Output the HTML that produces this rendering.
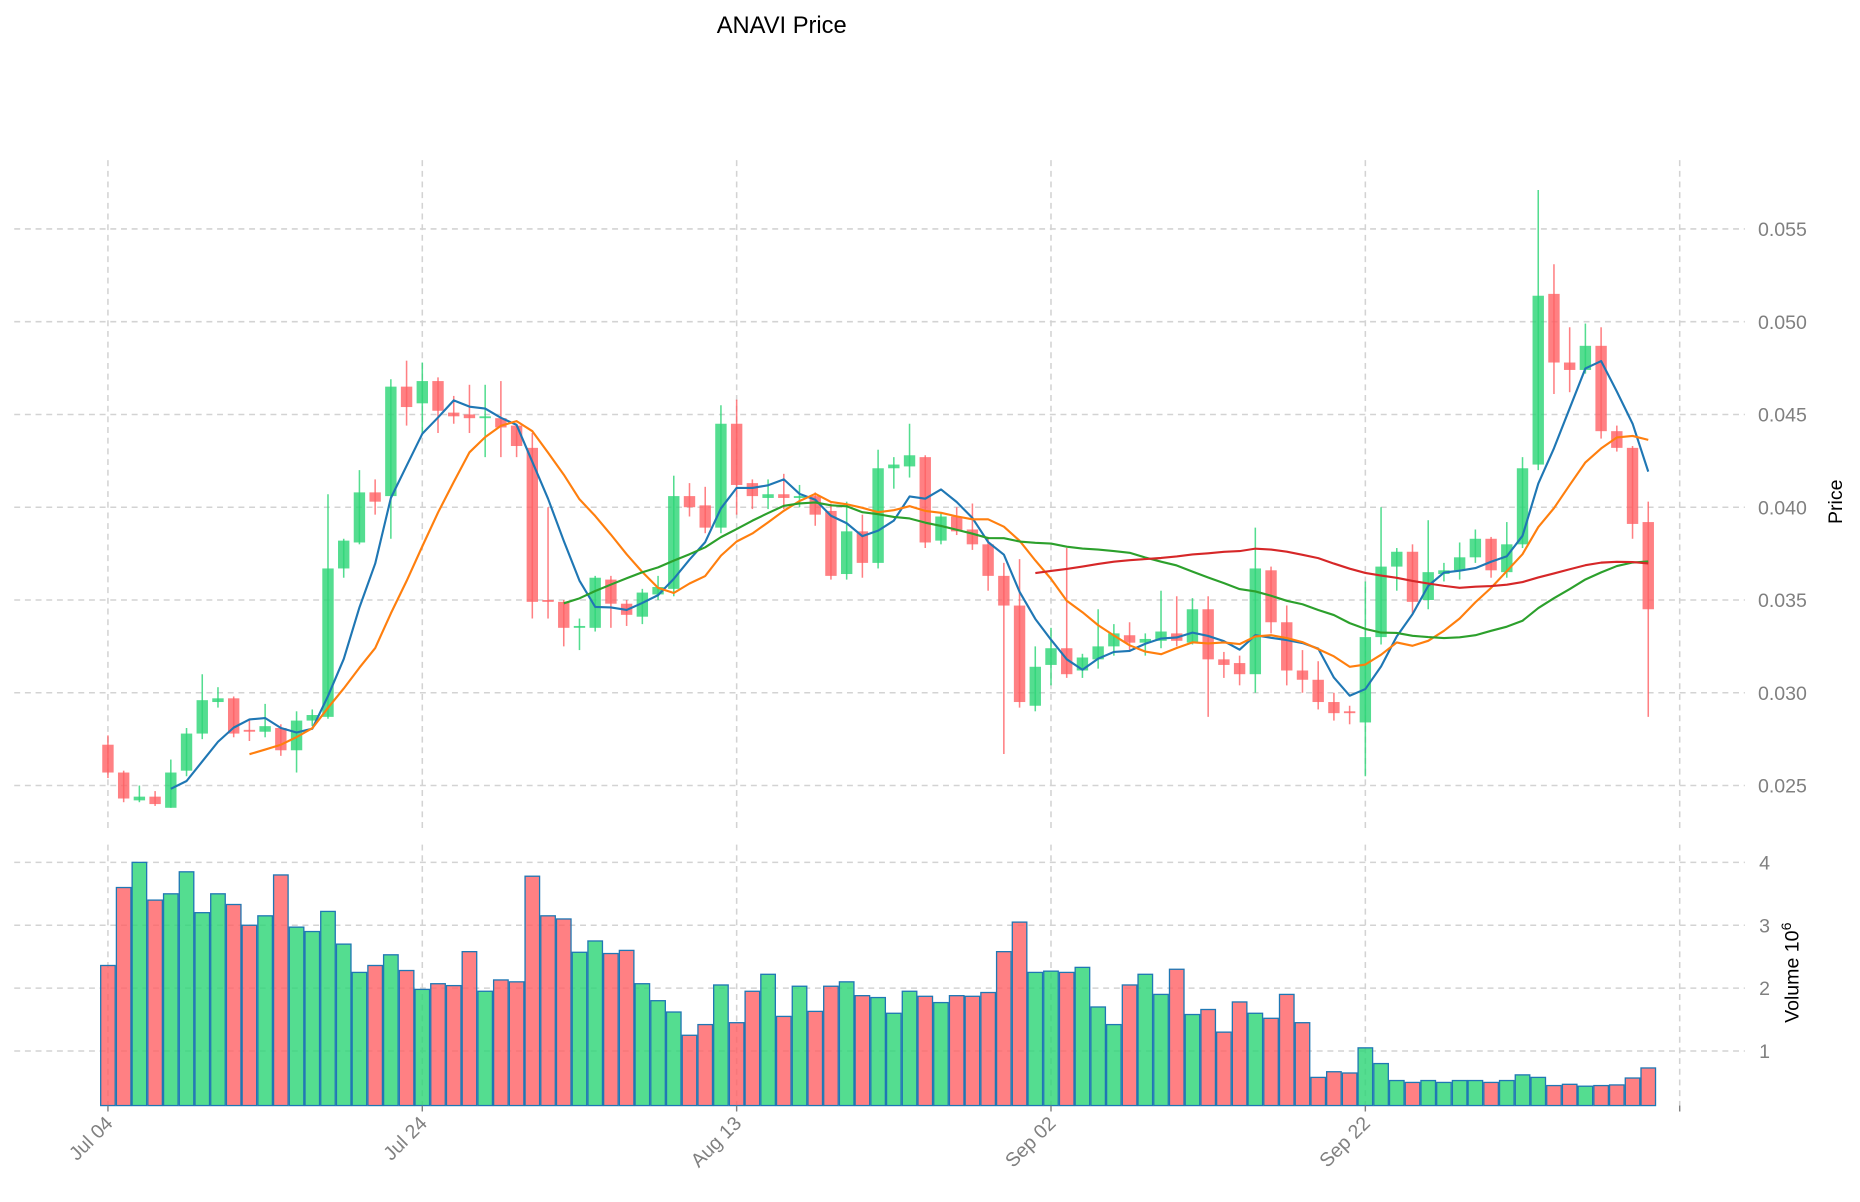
<!DOCTYPE html>
<html><head><meta charset="utf-8"><style>
html,body{margin:0;padding:0;background:#fff}
svg{display:block;font-family:"Liberation Sans","DejaVu Sans",sans-serif}
</style></head><body>
<svg id="chart" width="1860" height="1202" viewBox="0 0 1568 1013.3" xmlns="http://www.w3.org/2000/svg">
<text x="659" y="28" font-size="20" text-anchor="middle" fill="#000">ANAVI Price</text>
<g id="grid"></g><g id="vol"></g><g id="candles"></g><g id="mas"></g><g id="axes"></g>
<text transform="translate(1553,423) rotate(-90)" font-size="16.5" text-anchor="middle" fill="#000">Price</text>
<text transform="translate(1516,820) rotate(-90)" font-size="16.5" text-anchor="middle" fill="#000">Volume  10<tspan dy="-6" font-size="12">6</tspan></text>
</svg>
<script>
const opens=[.0272,.0257,.0242,.0244,.0238,.0258,.0278,.0295,.0297,.0280,.0279,.0281,.0269,.0285,.0287,.0367,.0381,.0408,.0406,.0465,.0456,.0468,.0451,.0450,.0448,.0448,.0444,.0432,.0350,.0349,.0335,.0335,.0361,.0348,.0341,.0353,.0356,.0406,.0401,.0389,.0445,.0413,.0405,.0407,.0405,.0406,.0398,.0364,.0387,.0370,.0421,.0422,.0427,.0382,.0395,.0388,.0380,.0363,.0347,.0293,.0315,.0324,.0312,.0318,.0325,.0331,.0327,.0328,.0332,.0327,.0345,.0318,.0316,.0310,.0366,.0338,.0312,.0307,.0295,.0290,.0284,.0330,.0368,.0376,.0350,.0364,.0366,.0373,.0383,.0365,.0380,.0423,.0515,.0478,.0474,.0487,.0441,.0432,.0392];
const closes=[.0257,.0243,.0244,.0240,.0257,.0278,.0296,.0297,.0278,.0279,.0282,.0269,.0285,.0288,.0367,.0382,.0408,.0403,.0465,.0454,.0468,.0452,.0449,.0448,.0449,.0443,.0433,.0349,.0349,.0335,.0336,.0362,.0348,.0342,.0354,.0357,.0406,.0400,.0389,.0445,.0412,.0406,.0407,.0405,.0406,.0396,.0363,.0387,.0370,.0421,.0423,.0428,.0381,.0395,.0387,.0380,.0363,.0347,.0295,.0314,.0324,.0310,.0319,.0325,.0332,.0327,.0329,.0333,.0328,.0345,.0318,.0315,.0310,.0367,.0338,.0312,.0307,.0295,.0289,.0289,.0330,.0368,.0376,.0349,.0365,.0366,.0373,.0383,.0366,.0380,.0421,.0514,.0478,.0474,.0487,.0441,.0432,.0391,.0345];
const highs=[.0277,.0258,.0250,.0247,.0264,.0281,.0310,.0303,.0298,.0286,.0294,.0283,.0290,.0291,.0407,.0383,.0420,.0415,.0469,.0479,.0478,.0470,.0460,.0466,.0466,.0468,.0445,.0440,.0400,.0350,.0340,.0363,.0363,.0350,.0356,.0363,.0417,.0413,.0411,.0455,.0458,.0415,.0415,.0418,.0412,.0408,.0402,.0403,.0396,.0431,.0427,.0445,.0428,.0397,.0400,.0402,.0384,.0370,.0372,.0325,.0335,.0378,.0321,.0345,.0337,.0338,.0332,.0355,.0352,.0351,.0352,.0322,.0320,.0389,.0368,.0347,.0323,.0317,.0300,.0293,.0360,.0400,.0378,.0380,.0393,.0370,.0381,.0388,.0384,.0392,.0427,.0571,.0531,.0497,.0499,.0497,.0444,.0433,.0403];
const lows=[.0254,.0241,.0241,.0239,.0238,.0255,.0275,.0292,.0276,.0274,.0276,.0266,.0257,.0282,.0286,.0362,.0380,.0396,.0383,.0444,.0440,.0440,.0445,.0440,.0427,.0427,.0427,.0340,.0340,.0325,.0323,.0333,.0335,.0336,.0337,.0350,.0352,.0395,.0386,.0386,.0396,.0399,.0399,.0399,.0400,.0390,.0361,.0361,.0362,.0367,.0410,.0416,.0378,.0380,.0385,.0377,.0355,.0267,.0292,.0290,.0304,.0308,.0308,.0313,.0320,.0322,.0320,.0324,.0325,.0326,.0287,.0308,.0304,.0300,.0332,.0304,.0300,.0291,.0285,.0283,.0255,.0326,.0355,.0343,.0345,.0360,.0361,.0370,.0362,.0362,.0378,.0420,.0461,.0462,.0472,.0437,.0430,.0383,.0287];
const volumes=[2.36,3.6,4.0,3.4,3.5,3.85,3.2,3.5,3.33,3.0,3.15,3.8,2.97,2.9,3.22,2.7,2.25,2.36,2.53,2.28,1.98,2.07,2.04,2.58,1.95,2.13,2.1,3.78,3.15,3.1,2.57,2.75,2.55,2.6,2.07,1.8,1.62,1.25,1.42,2.05,1.45,1.95,2.22,1.55,2.03,1.63,2.03,2.1,1.88,1.85,1.6,1.95,1.87,1.77,1.88,1.87,1.93,2.58,3.05,2.25,2.27,2.25,2.33,1.7,1.42,2.05,2.22,1.9,2.3,1.58,1.66,1.3,1.78,1.6,1.52,1.9,1.45,0.58,0.67,0.65,1.05,0.8,0.53,0.5,0.53,0.5,0.53,0.53,0.5,0.53,0.62,0.58,0.45,0.47,0.44,0.45,0.46,0.57,0.73];
const priceTicks=[0.025,0.030,0.035,0.040,0.045,0.050,0.055];
const volTicks=[1,2,3,4];
const dateLabels=["Jul 04","Jul 24","Aug 13","Sep 02","Sep 22"];
const dateIdx=[0,20,40,60,80,100];
const maPeriods=[5,10,30,60];
const maColors=["#1f77b4","#ff7f0e","#2ca02c","#d62728"];

const NS="http://www.w3.org/2000/svg";
const X0=91,DX=13.25;
const xs=i=>X0+DX*i;
const py=v=>193+(0.055-v)*15640;
const vy=v=>939-v*53;
const PL=12,PR=1416,PT=135,PB=700,VT=712,VB=932;
function mk(tag,attrs,parent){const e=document.createElementNS(NS,tag);for(const k in attrs)e.setAttribute(k,attrs[k]);parent.appendChild(e);return e;}
const G=document.getElementById('grid'),V=document.getElementById('vol'),C=document.getElementById('candles'),M=document.getElementById('mas'),A=document.getElementById('axes');
const gs={stroke:"#d3d3d3","stroke-width":1.3,"stroke-dasharray":"5,4",fill:"none"};
priceTicks.forEach(t=>{
  const y=py(t);
  const l=mk('line',Object.assign({x1:PL,x2:PR+55,y1:y,y2:y},gs),G);
  
  
  const tx=mk('text',{x:1482,y:y+6,"font-size":16.5,fill:"#808080"},A);
  tx.textContent=t.toFixed(3);
  
  
});
volTicks.forEach(t=>{
  const y=vy(t);
  const l=mk('line',Object.assign({x1:PL,x2:PR+55,y1:y,y2:y},gs),G);
  
  
  const tx=mk('text',{x:1483,y:y+6,"font-size":16.5,fill:"#808080"},A);
  tx.textContent=t;
  
  
});
dateIdx.forEach((d,k)=>{
  const x=xs(d);
  const l1=mk('line',Object.assign({x1:x,x2:x,y1:PT,y2:PB},gs),G);
  
  
  const l2=mk('line',Object.assign({x1:x,x2:x,y1:VT,y2:VB},gs),G);
  
  
  const tk=mk('line',{x1:x,x2:x,y1:VB,y2:VB+5,stroke:"#808080","stroke-width":1.2},A);
  
  
  if(k<dateLabels.length){
    const tx=mk('text',{transform:`translate(${x+5},${VB+16}) rotate(-45)`,"font-size":16.5,fill:"#808080","text-anchor":"end"},A);
    tx.textContent=dateLabels[k];
    
    
  }
});
const GREEN="rgba(46,214,120,0.82)",RED="rgba(255,96,100,0.8)";
volumes.forEach((v,i)=>{
  const up=closes[i]>=opens[i];
  const y=vy(v);
  const r=mk('rect',{x:xs(i)-DX/2+0.5,y:y,width:DX-1,height:VB-y,fill:up?GREEN:RED,stroke:"#1f77b4","stroke-width":1.1},V);
  
  
});
opens.forEach((o,i)=>{
  const c=closes[i],up=c>=o,col=up?GREEN:RED,x=xs(i);
  const w=mk('line',{x1:x,x2:x,y1:py(highs[i]),y2:py(lows[i]),stroke:col,"stroke-width":1.3},C);
  
  
  const top=py(Math.max(o,c)),bot=py(Math.min(o,c));
  const b=mk('rect',{x:x-4.8,y:top,width:9.6,height:Math.max(1.5,bot-top),fill:col},C);
  
  
});
maPeriods.forEach((p,k)=>{
  const pts=[];
  for(let i=p-1;i<closes.length;i++){let s=0;for(let j=i-p+1;j<=i;j++)s+=closes[j];pts.push(xs(i).toFixed(1)+","+py(s/p).toFixed(1));}
  const pl=mk('polyline',{points:pts.join(" "),fill:"none",stroke:maColors[k],"stroke-width":1.8,"stroke-linejoin":"round"},M);
  
  
});
</script>
</body></html>
